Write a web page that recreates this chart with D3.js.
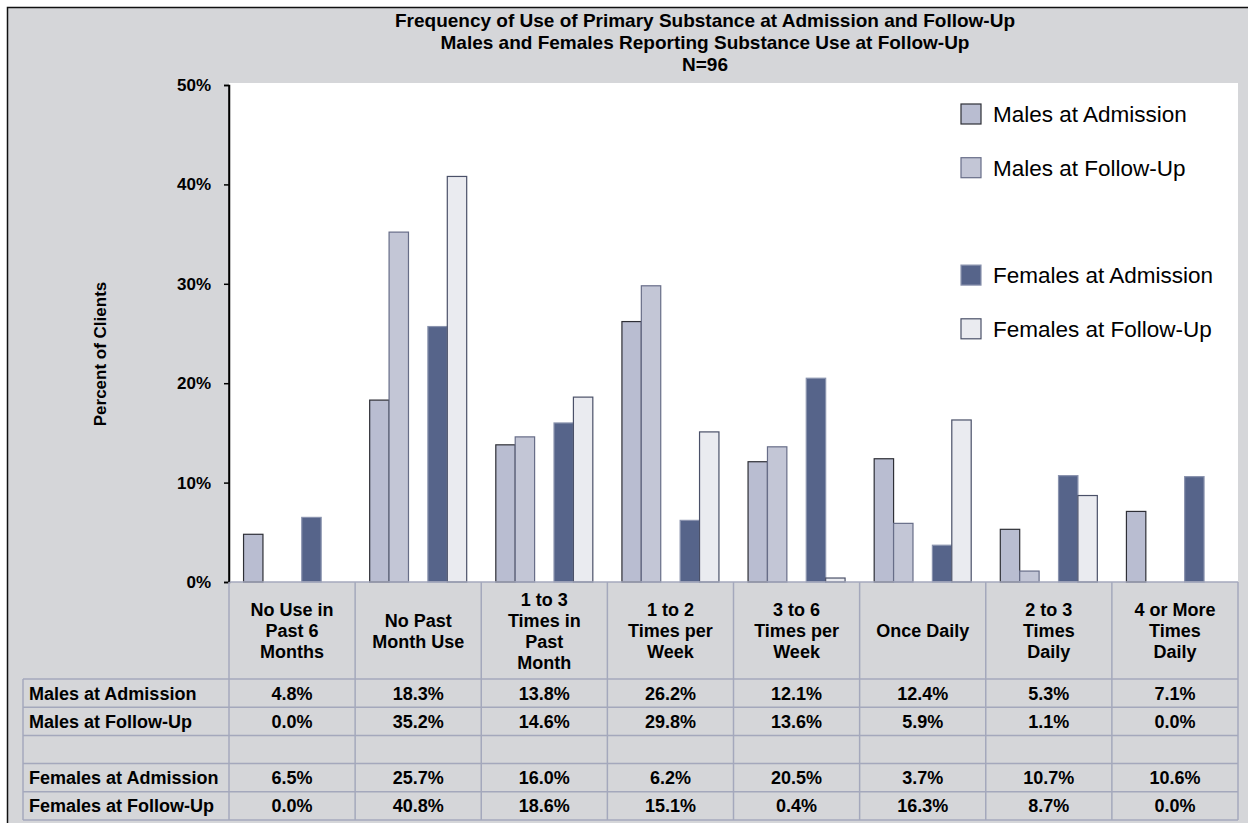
<!DOCTYPE html>
<html>
<head>
<meta charset="utf-8">
<script src="https://cdn.jsdelivr.net/npm/d3@7"></script>
<style>
  html, body { margin: 0; padding: 0; background: #ffffff; }
  svg { display: block; }
  text { font-family: Arial, "Liberation Sans", sans-serif; fill: #000; }
</style>
</head>
<body>
<svg id="chart" width="1248" height="823"></svg>
<script>
// Frequency categories (header lines of the data table)
const categories = [
  ["No Use in", "Past 6", "Months"],
  ["No Past", "Month Use"],
  ["1 to 3", "Times in", "Past", "Month"],
  ["1 to 2", "Times per", "Week"],
  ["3 to 6", "Times per", "Week"],
  ["Once Daily"],
  ["2 to 3", "Times", "Daily"],
  ["4 or More", "Times", "Daily"]
];

// Percent of clients per category
const malesAdmission   = [4.8, 18.3, 13.8, 26.2, 12.1, 12.4, 5.3, 7.1];
const malesFollowUp    = [0.0, 35.2, 14.6, 29.8, 13.6, 5.9, 1.1, 0.0];
const femalesAdmission = [6.5, 25.7, 16.0, 6.2, 20.5, 3.7, 10.7, 10.6];
const femalesFollowUp  = [0.0, 40.8, 18.6, 15.1, 0.4, 16.3, 8.7, 0.0];

const seriesNames = ["Males at Admission", "Males at Follow-Up", "", "Females at Admission", "Females at Follow-Up"];
const yTicks = [0, 10, 20, 30, 40, 50];

const titleLines = [
  "Frequency of Use of Primary Substance at Admission and Follow-Up",
  "Males and Females Reporting Substance Use at Follow-Up",
  "N=96"
];

// One entry per slot; the empty slot separates males from females
const series = [
  { name: seriesNames[0], values: malesAdmission,   fill: "#b9bdd1", stroke: "#2e2f36" },
  { name: seriesNames[1], values: malesFollowUp,    fill: "#c3c6d6", stroke: "#676d88" },
  { name: seriesNames[2], values: null,             fill: "none",    stroke: "none" },
  { name: seriesNames[3], values: femalesAdmission, fill: "#56648a", stroke: "#8a93ae" },
  { name: seriesNames[4], values: femalesFollowUp,  fill: "#eaebf0", stroke: "#4a5068" }
];

const svg = d3.select("#chart");
const W = 1248, H = 823;

const plot = { left: 229, right: 1238, top: 83, y0: 582, y50: 85 };
const gridColor = "#a4a8bc";
const bg = "#d5d6d9";

// Chart frame
svg.append("rect")
  .attr("x", 7.5).attr("y", 7.5)
  .attr("width", W).attr("height", H)
  .attr("fill", bg).attr("stroke", "#111").attr("stroke-width", 1.5);

// Plot area
svg.append("rect")
  .attr("x", plot.left).attr("y", plot.top)
  .attr("width", plot.right - plot.left).attr("height", plot.y0 - plot.top)
  .attr("fill", "#ffffff");

// Scales
const x = d3.scaleBand()
  .domain(d3.range(categories.length))
  .range([plot.left, plot.right])
  .padding(0);

const xs = d3.scaleBand()
  .domain(d3.range(series.length))
  .range([0, x.bandwidth()])
  .paddingInner(0)
  .paddingOuter(0.75);

const y = d3.scaleLinear().domain([0, 50]).range([plot.y0, plot.y50]);

// Bars
series.forEach((s, si) => {
  if (!s.values) return;
  svg.append("g")
    .selectAll("rect")
    .data(s.values.map((v, i) => ({ v, i })).filter(d => d.v > 0))
    .join("rect")
    .attr("x", d => x(d.i) + xs(si))
    .attr("y", d => y(d.v))
    .attr("width", xs.bandwidth())
    .attr("height", d => y(0) - y(d.v))
    .attr("fill", s.fill)
    .attr("stroke", s.stroke)
    .attr("stroke-width", 1.2);
});

// Y axis
const yAxis = d3.axisLeft(y)
  .tickValues(yTicks)
  .tickFormat(d => d + "%")
  .tickSize(5)
  .tickPadding(13);

const gy = svg.append("g")
  .attr("transform", `translate(${plot.left},0)`)
  .call(yAxis);
gy.select(".domain").attr("stroke", "#000").attr("stroke-width", 1.5);
gy.selectAll(".tick line").attr("stroke", "#000").attr("stroke-width", 1.5);
gy.selectAll(".tick text")
  .attr("font-size", 17).attr("font-weight", "bold")
  .attr("font-family", "Arial, 'Liberation Sans', sans-serif")
  .attr("fill", "#000");

// Y axis title
svg.append("text")
  .attr("transform", `translate(106,354) rotate(-90)`)
  .attr("text-anchor", "middle")
  .attr("font-size", 17).attr("font-weight", "bold")
  .text("Percent of Clients");

// Title
svg.append("g").selectAll("text")
  .data(titleLines)
  .join("text")
  .attr("x", 705)
  .attr("y", (d, i) => 27 + i * 22)
  .attr("text-anchor", "middle")
  .attr("font-size", 19).attr("font-weight", "bold")
  .text(d => d);

// Legend
const legend = svg.append("g");
series.forEach((s, si) => {
  if (!s.name) return;
  const cy = 114 + si * 53.7;
  legend.append("rect")
    .attr("x", 961).attr("y", cy - 10)
    .attr("width", 20).attr("height", 20)
    .attr("fill", s.fill).attr("stroke", s.stroke).attr("stroke-width", 1.2);
  legend.append("text")
    .attr("x", 993).attr("y", cy + 8)
    .attr("font-size", 22.5)
    .text(s.name);
});

// Data table
const table = {
  labelLeft: 23,
  headerTop: plot.y0,
  headerBottom: 679,
  rowH: 28.2
};
const tableRows = series.map(s => ({ name: s.name, values: s.values }));
const tableBottom = table.headerBottom + tableRows.length * table.rowH;

const tg = svg.append("g");

// Header cells
categories.forEach((lines, i) => {
  const cx = x(i) + x.bandwidth() / 2;
  const n = lines.length;
  tg.append("g").selectAll("text")
    .data(lines)
    .join("text")
    .attr("x", cx)
    .attr("y", (d, j) => 637 + (j - (n - 1) / 2) * 21)
    .attr("text-anchor", "middle")
    .attr("font-size", 18).attr("font-weight", "bold")
    .text(d => d);
});

// Row labels and values
tableRows.forEach((r, ri) => {
  const cy = table.headerBottom + ri * table.rowH + table.rowH / 2;
  if (!r.name) return;
  tg.append("text")
    .attr("x", 29).attr("y", cy).attr("dy", "0.36em")
    .attr("font-size", 18).attr("font-weight", "bold")
    .text(r.name);
  tg.append("g").selectAll("text")
    .data(r.values)
    .join("text")
    .attr("x", (d, i) => x(i) + x.bandwidth() / 2)
    .attr("y", cy).attr("dy", "0.36em")
    .attr("text-anchor", "middle")
    .attr("font-size", 18).attr("font-weight", "bold")
    .text(d => d.toFixed(1) + "%");
});

// Grid lines of the table
const gl = tg.append("g").attr("stroke", gridColor).attr("stroke-width", 1.5).attr("fill", "none");
gl.append("line")
  .attr("x1", plot.left).attr("x2", plot.right)
  .attr("y1", table.headerTop).attr("y2", table.headerTop);
d3.range(tableRows.length + 1).forEach(k => {
  const yy = table.headerBottom + k * table.rowH;
  gl.append("line")
    .attr("x1", table.labelLeft).attr("x2", plot.right)
    .attr("y1", yy).attr("y2", yy);
});
gl.append("line")
  .attr("x1", table.labelLeft).attr("x2", table.labelLeft)
  .attr("y1", table.headerBottom).attr("y2", tableBottom);
d3.range(categories.length + 1).forEach(k => {
  const xx = k < categories.length ? x(k) : plot.right;
  gl.append("line")
    .attr("x1", xx).attr("x2", xx)
    .attr("y1", table.headerTop).attr("y2", tableBottom);
});

// Axis line drawn over the table border
svg.append("line")
  .attr("x1", plot.left).attr("x2", plot.left)
  .attr("y1", y(50)).attr("y2", y(0))
  .attr("stroke", "#000").attr("stroke-width", 1.5);
</script>
</body>
</html>
